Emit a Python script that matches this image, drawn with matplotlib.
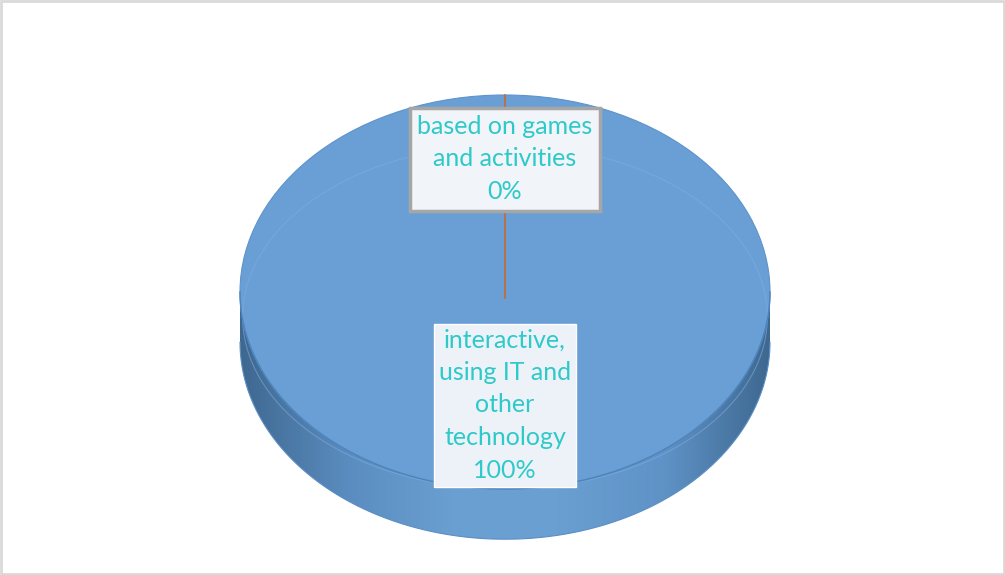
import numpy as np
import matplotlib.pyplot as plt
from matplotlib.colors import LinearSegmentedColormap

labels = ['based on games\nand activities', 'interactive,\nusing IT and\nother\ntechnology']
values = [0, 100]

TOP_COLOR = '#6a9fd5'
TEXT_COLOR = '#2ec9c9'
DEPTH = 0.255  # thickness of the disc, in radius units (vertical)

fig = plt.figure(figsize=(10.05, 5.75), dpi=100)
ax = fig.add_axes([0, 0, 1, 1])
ax.axis('off')

# side of the disc, gradient dark -> light -> dark
t = np.linspace(np.pi, 2 * np.pi, 200)
xs = np.concatenate([np.cos(t), np.cos(t[::-1])])
ys = np.concatenate([np.sin(t), np.sin(t[::-1]) - DEPTH])
side, = ax.fill(xs, ys, color='none', zorder=1)
cmap = LinearSegmentedColormap.from_list(
    'side', ['#3f6890', '#5a8cbf', '#6a9fd2', '#6a9fd2', '#5f93c7', '#3e6890'])
grad = np.linspace(0, 1, 256).reshape(1, -1)
img = ax.imshow(grad, cmap=cmap, extent=[-1, 1, -1 - DEPTH, 0.05],
                aspect='auto', zorder=1)
img.set_clip_path(side)
ax.plot(np.cos(t), np.sin(t) - DEPTH, color='#5b8fc4', lw=0.8, zorder=2)

# top face, from the data
wedges, _ = ax.pie(values, radius=1, startangle=90, counterclock=False,
                   colors=[TOP_COLOR, TOP_COLOR],
                   wedgeprops=dict(edgecolor='#5d93cc', linewidth=0.8))
ax.set_aspect('auto')
ax.set_xlim(-505 / 265, 500 / 265)
ax.set_ylim(-283 / 197, 292 / 197)

# faint inner rim line
tt = np.linspace(0, 2 * np.pi, 300)
ax.plot(0.99 * np.cos(tt), 0.873 * np.sin(tt) - 0.127, color='#82aedc',
        lw=0.7, alpha=0.6, zorder=3)
ax.plot(np.cos(t), np.sin(t), color='#4d84bd', lw=1.0, zorder=3)

# leader line for the 0% slice
ax.plot([0, 0], [1, -0.03], color='#c8692e', lw=1.2, zorder=4)

font = dict(family=['Lato', 'DejaVu Sans'], fontsize=18, color=TEXT_COLOR,
            ha='center', va='center', linespacing=1.5)

total = sum(values)
ax.text(0, (292 - 159) / 197, f'{labels[0]}\n{values[0] / total:.0%}', zorder=6,
        bbox=dict(boxstyle='square,pad=0.3', facecolor='#f1f4f8',
                  edgecolor='#a6a6a6', linewidth=2.5), **font)
ax.text(0, (292 - 405) / 197, f'{labels[1]}\n{values[1] / total:.0%}', zorder=6,
        bbox=dict(boxstyle='square,pad=0.2', facecolor='#edf2f9',
                  edgecolor='#ffffff', linewidth=1.0), **font)

# outer chart frame
fig.patches.append(plt.Rectangle((0.001, 0.002), 0.998, 0.996, transform=fig.transFigure,
                                 fill=False, edgecolor='#d9d9d9', linewidth=2))

fig.savefig('out.png', dpi=100)
